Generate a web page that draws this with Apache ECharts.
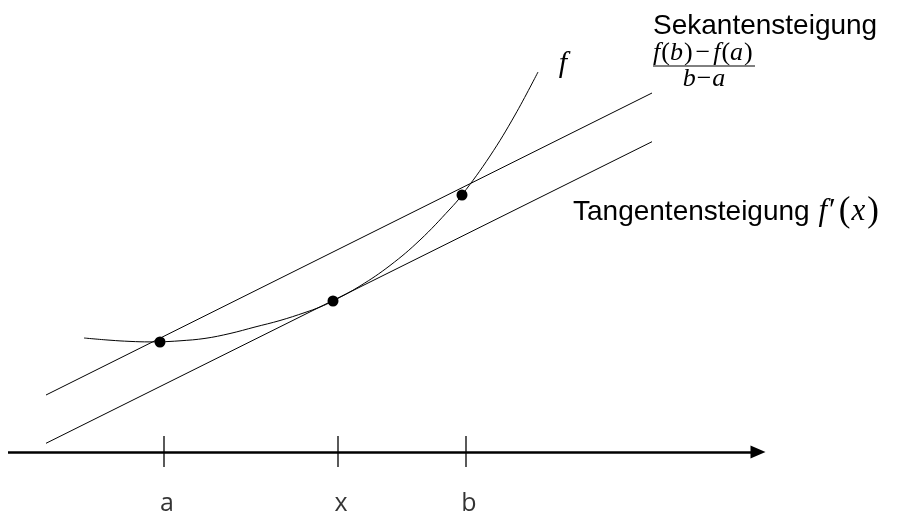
<!DOCTYPE html>
<html>
<head>
<meta charset="utf-8">
<script src="https://cdn.jsdelivr.net/npm/echarts@6/dist/echarts.min.js"></script>
<style>
html,body{margin:0;padding:0;background:#fff;}
#chart{width:897px;height:511px;}
</style>
</head>
<body>
<div id="chart"></div>
<script>
// Curve f (x positions and values, y measured upward from the x-axis)
var curveX = [84,110,130,150,160,180,205,230,255,280,305,320,333,360,390,420,450,462,490,515,538];
var curveY = [114,111.8,110.6,110.1,110.2,111.2,113.6,118.5,125,131.5,139.5,145,151,166,186.5,212,243,257,296,337,380];
// Secant line (through f(a), f(b))
var secantX = [46, 652];
var secantY = [57, 359];
// Tangent line at x
var tangentX = [46, 652];
var tangentY = [8.7, 310.3];
// Marked points a, x, b on f
var pointX = [160, 333, 462];
var pointY = [110, 151, 257];
// Axis ticks and their labels
var tickX = [164, 338, 466];
var tickLabels = ['a', 'x', 'b'];
// x-axis extent
var axisStart = 8;
var axisEnd = 758;

function pairs(xs, ys){ return xs.map(function(x,i){ return [x, ys[i]]; }); }

var chart = echarts.init(document.getElementById('chart'), null, {renderer:'canvas'});

var serif = '"Liberation Serif", "DejaVu Serif", serif';
var sans = '"Liberation Sans", Arial, sans-serif';
var numRich = {
  i: {fontFamily: serif, fontStyle: 'italic', fontSize: 26, fill: '#000', padding: [0, 1, 0, 0]},
  r: {fontFamily: serif, fontSize: 26, fill: '#000'},
  m: {fontFamily: serif, fontSize: 26, fill: '#000', padding: [0, 3, 0, 3]}
};
var denRich = {
  i: {fontFamily: serif, fontStyle: 'italic', fontSize: 26, fill: '#000'},
  m: {fontFamily: serif, fontSize: 26, fill: '#000', padding: [0, 1, 0, 1]}
};
var bigRich = {
  s: {fontFamily: sans, fontSize: 28, fill: '#000'},
  i: {fontFamily: serif, fontStyle: 'italic', fontSize: 31, fill: '#000', padding: [0, 2, 0, 1]},
  r: {fontFamily: serif, fontSize: 35, fill: '#000'},
  p: {fontFamily: serif, fontSize: 31, fill: '#000', padding: [0, 3, 0, 0]}
};

var option = {
  animation: false,
  backgroundColor: '#fff',
  grid: {left: 0, right: 0, top: 0, bottom: 0},
  xAxis: {type: 'value', min: 0, max: 897, show: false},
  yAxis: {type: 'value', min: -59, max: 452, show: false},
  series: [
    {
      name: 'axis', type: 'line', data: [], silent: true,
      markLine: {
        silent: true,
        symbol: ['none', 'triangle'],
        symbolSize: [13, 15],
        label: {show: false},
        lineStyle: {color: '#000', width: 2.5, type: 'solid'},
        emphasis: {disabled: true},
        data: [[{coord: [axisStart, 0]}, {coord: [axisEnd, 0]}]]
      }
    },
    {
      name: 'ticks', type: 'custom', silent: true,
      data: tickX.map(function(x){ return [x]; }),
      renderItem: function(params, api){
        var x = api.value(0);
        var p1 = api.coord([x, 16]);
        var p2 = api.coord([x, -15]);
        return {type: 'line', shape: {x1: p1[0], y1: p1[1], x2: p2[0], y2: p2[1]},
                style: {stroke: '#000', lineWidth: 1.3}};
      }
    },
    {
      name: 'f', type: 'line', data: pairs(curveX, curveY), smooth: 0.4,
      showSymbol: false, silent: true,
      lineStyle: {color: '#000', width: 1}
    },
    {
      name: 'secant', type: 'line', data: pairs(secantX, secantY),
      showSymbol: false, silent: true,
      lineStyle: {color: '#000', width: 1}
    },
    {
      name: 'tangent', type: 'line', data: pairs(tangentX, tangentY),
      showSymbol: false, silent: true,
      lineStyle: {color: '#000', width: 1}
    },
    {
      name: 'points', type: 'scatter', data: pairs(pointX, pointY),
      symbol: 'circle', symbolSize: 11, silent: true,
      itemStyle: {color: '#000', opacity: 1}
    },
    {
      name: 'labels', type: 'scatter', silent: true,
      data: tickX.map(function(x, i){ return {value: [x, -52], name: tickLabels[i]}; }),
      symbolSize: 0,
      label: {
        show: true, position: 'inside', offset: [3, 0],
        formatter: '{b}', color: '#000',
        fontFamily: '"Open Sans", "Liberation Sans", sans-serif', fontSize: 25
      }
    }
  ],
  graphic: [
    {type: 'text', x: 653, y: 26, style: {text: 'Sekantensteigung', font: '28px ' + sans, fill: '#000', verticalAlign: 'middle'}},
    {type: 'text', x: 653, y: 53, style: {
      text: '{i|f}{r|(}{i|b}{r|)}{m|−}{i|f}{r|(}{i|a}{r|)}', rich: numRich, verticalAlign: 'middle'}},
    {type: 'line', shape: {x1: 653, y1: 66, x2: 755, y2: 66}, style: {stroke: '#000', lineWidth: 1}},
    {type: 'text', x: 704, y: 79, style: {
      text: '{i|b}{m|−}{i|a}', rich: denRich, verticalAlign: 'middle', align: 'center'}},
    {type: 'text', x: 563, y: 64, style: {
      text: 'f', font: 'italic 30px ' + serif, fill: '#000', verticalAlign: 'middle', align: 'center'}},
    {type: 'text', x: 573, y: 212, style: {
      text: '{s|Tangentensteigung }{i|f}{p|′}{r|(}{i|x}{r|)}', rich: bigRich, verticalAlign: 'middle'}}
  ]
};
chart.setOption(option);
</script>
</body>
</html>
